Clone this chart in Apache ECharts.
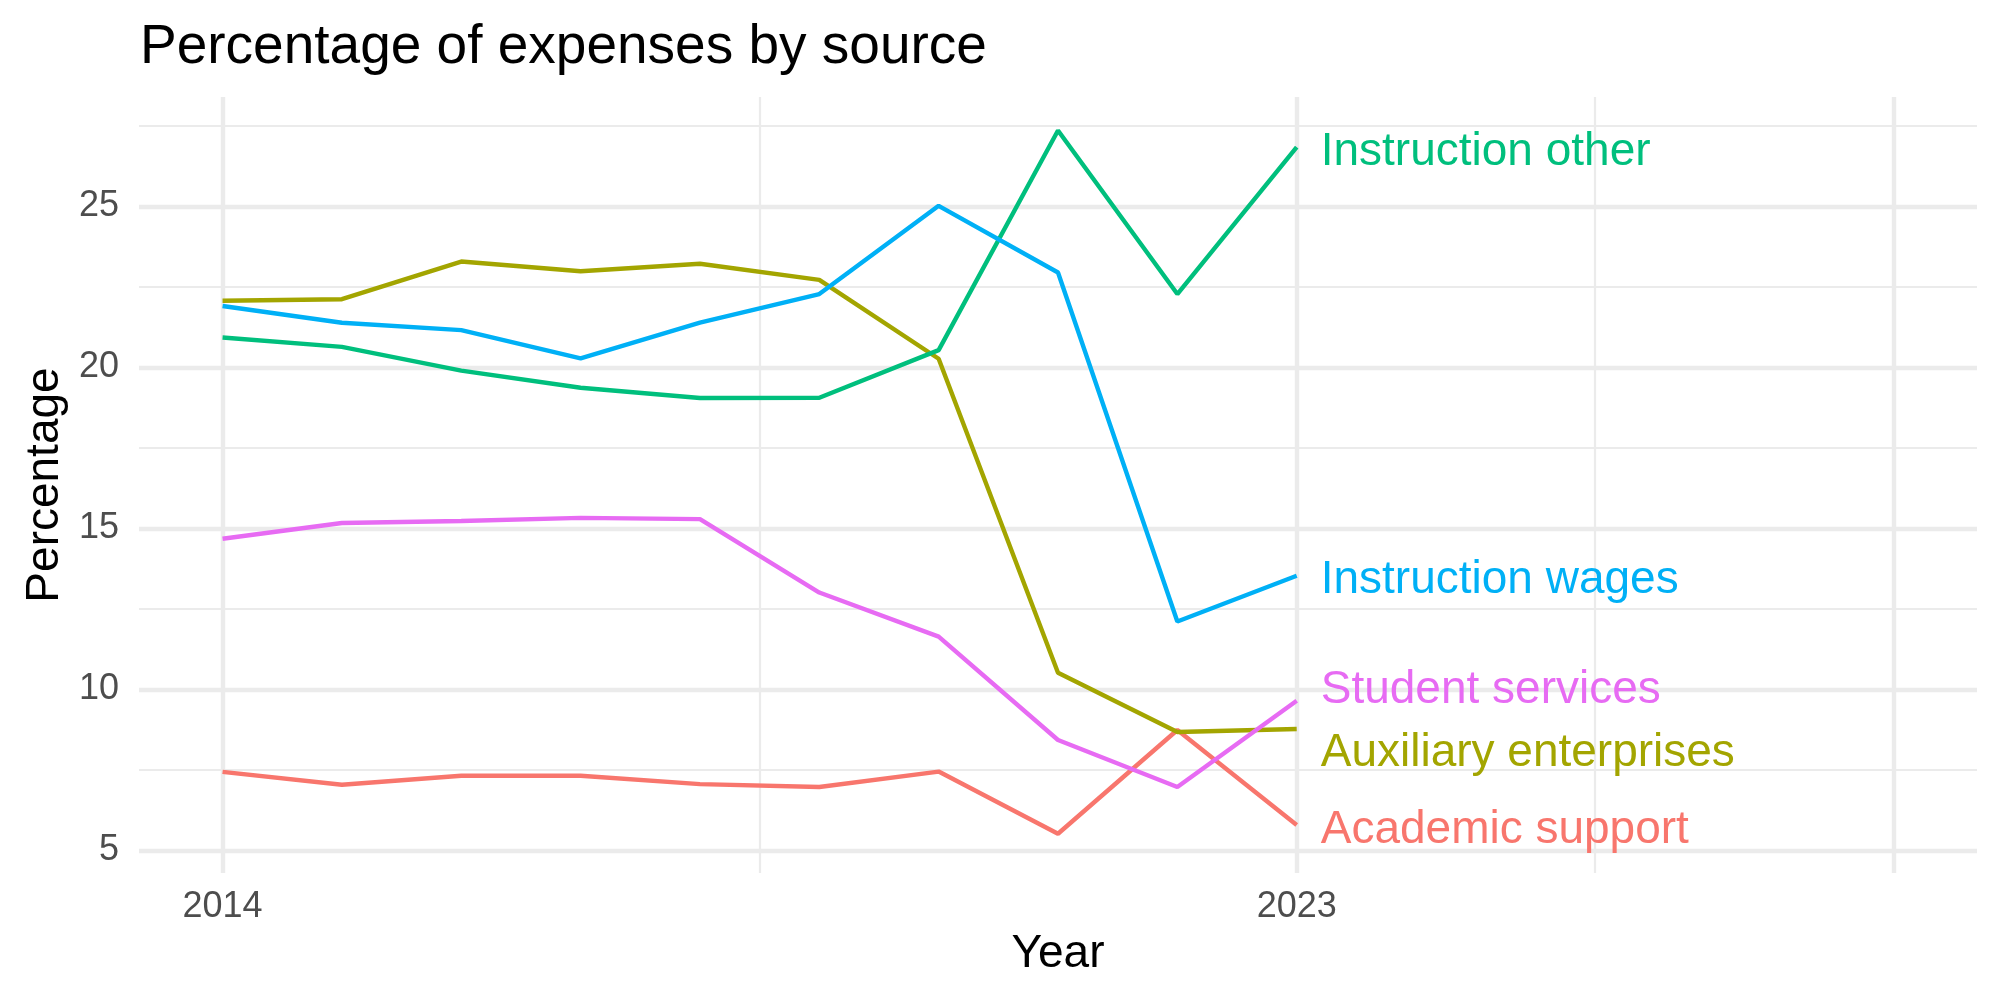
<!DOCTYPE html>
<html>
<head>
<meta charset="utf-8">
<script src="https://cdn.jsdelivr.net/npm/echarts@6/dist/echarts.min.js"></script>
<style>
html, body { margin: 0; padding: 0; background: #fff; }
#chart { width: 2000px; height: 1000px; }
</style>
</head>
<body>
<div id="chart"></div>
<script>
// values
const years = [2014, 2015, 2016, 2017, 2018, 2019, 2020, 2021, 2022, 2023]
const academicSupport = [7.44, 7.04, 7.32, 7.32, 7.06, 6.97, 7.45, 5.52, 8.74, 5.79]
const auxiliaryEnterprises = [22.07, 22.12, 23.29, 22.99, 23.22, 22.72, 20.27, 10.52, 8.68, 8.77]
const instructionOther = [20.93, 20.64, 19.90, 19.37, 19.05, 19.06, 20.54, 27.36, 22.28, 26.84]
const instructionWages = [21.91, 21.39, 21.16, 20.28, 21.39, 22.28, 25.02, 22.95, 12.11, 13.53]
const studentServices = [14.68, 15.17, 15.23, 15.33, 15.29, 13.01, 11.64, 8.43, 6.97, 9.65]

const seriesNames = ['Academic support', 'Auxiliary enterprises', 'Instruction other', 'Instruction wages', 'Student services']
const seriesValues = [academicSupport, auxiliaryEnterprises, instructionOther, instructionWages, studentServices]
const colors = ['#F8766D', '#A3A500', '#00BF7D', '#00B0F6', '#E76BF3']

// axis breaks
const xLabels = [2014, 2023]
const xMajor = [2014, 2023, 2028]
const xMinor = [2018.5, 2025.5]
const yLabels = [5, 10, 15, 20, 25]
const yMinor = [7.5, 12.5, 17.5, 22.5, 27.5]

// end label nudges (repel), px
const labelNudge = [5, 24, 5, 5, -10]

const FONT = '"Liberation Sans", Arial, Helvetica, sans-serif'
const gridColor = '#EBEBEB'

let chart = echarts.init(document.getElementById('chart'))

let gridLines = []
xMajor.forEach(v => gridLines.push({ xAxis: v, lineStyle: { width: 4.4, color: gridColor, type: 'solid' } }))
xMinor.forEach(v => gridLines.push({ xAxis: v, lineStyle: { width: 2.2, color: gridColor, type: 'solid' } }))
yLabels.forEach(v => gridLines.push({ yAxis: v, lineStyle: { width: 4.4, color: gridColor, type: 'solid' } }))
yMinor.forEach(v => gridLines.push({ yAxis: v, lineStyle: { width: 2.2, color: gridColor, type: 'solid' } }))

let series = seriesNames.map((name, i) => {
    let s = {
        name: name,
        type: 'line',
        data: years.map((y, j) => [y, seriesValues[i][j]]),
        showSymbol: false,
        symbol: 'none',
        color: colors[i],
        lineStyle: { width: 4.4, color: colors[i] },
        emphasis: { disabled: true },
        z: 2,
        endLabel: {
            show: true,
            formatter: '{a}',
            color: colors[i],
            fontFamily: FONT,
            fontSize: 46,
            distance: 24,
            offset: [0, labelNudge[i]]
        }
    }
    if (i === 0) {
        s.markLine = {
            silent: true,
            symbol: ['none', 'none'],
            z: 1,
            animation: false,
            label: { show: false },
            emphasis: { disabled: true },
            data: gridLines
        }
    }
    return s
})

let option = {
    animation: false,
    backgroundColor: '#ffffff',
    title: {
        text: 'Percentage of expenses by source',
        left: 140,
        top: 20,
        padding: 0,
        textStyle: { fontFamily: FONT, fontSize: 55, fontWeight: 'normal', color: '#000' }
    },
    grid: { left: 139, right: 23, top: 97, bottom: 127 },
    xAxis: {
        type: 'value',
        min: 2013.3,
        max: 2028.7,
        name: 'Year',
        nameLocation: 'middle',
        nameGap: 58,
        nameTextStyle: { fontFamily: FONT, fontSize: 46, color: '#000' },
        axisLine: { show: false },
        axisTick: { show: false },
        splitLine: { show: false },
        axisLabel: {
            customValues: xLabels,
            formatter: v => String(v),
            margin: 16,
            fontFamily: FONT,
            fontSize: 36,
            color: '#4D4D4D'
        }
    },
    yAxis: {
        type: 'value',
        min: 4.3,
        max: 28.4,
        name: 'Percentage',
        nameLocation: 'middle',
        nameGap: 71,
        nameTextStyle: { fontFamily: FONT, fontSize: 46, color: '#000' },
        axisLine: { show: false },
        axisTick: { show: false },
        splitLine: { show: false },
        axisLabel: {
            customValues: yLabels,
            margin: 20,
            fontFamily: FONT,
            fontSize: 36,
            color: '#4D4D4D'
        }
    },
    series: series
}
chart.setOption(option)

window.addEventListener('resize', () => {
    chart.resize()
})
</script>
</body>
</html>
